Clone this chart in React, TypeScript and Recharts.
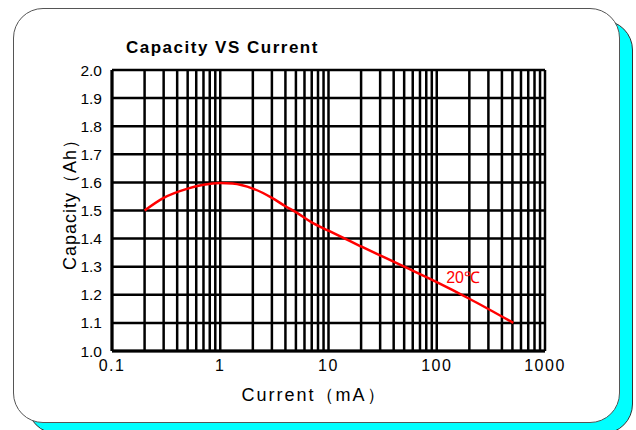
import { LineChart, Line, XAxis, YAxis, CartesianGrid, ReferenceDot } from 'recharts';

// current (mA) vs capacity (Ah)
const current = [0.2, 0.3, 0.5, 0.7, 1, 1.3, 2, 3, 4, 5, 7, 10, 20, 50, 100, 200, 510];
const capacity = [1.5, 1.545, 1.578, 1.592, 1.598, 1.596, 1.578, 1.545, 1.515, 1.494, 1.458, 1.428, 1.372, 1.3, 1.245, 1.186, 1.1];

const xTicks = [
  0.1, 0.2, 0.3, 0.4, 0.5, 0.6, 0.7, 0.8, 0.9,
  1, 2, 3, 4, 5, 6, 7, 8, 9,
  10, 20, 30, 40, 50, 60, 70, 80, 90,
  100, 200, 300, 400, 500, 600, 700, 800, 900,
  1000,
];
const xLabels = [0.1, 1, 10, 100, 1000];
const yTicks = [1.0, 1.1, 1.2, 1.3, 1.4, 1.5, 1.6, 1.7, 1.8, 1.9, 2.0];

const tempLabel = '20℃';
const tempAt = { x: 175, y: 1.263 };

const data = current.map((c, i) => ({ current: c, capacity: capacity[i] }));

export default function App() {
  return (
    <div
      style={{
        position: 'absolute',
        left: 0,
        top: 0,
        width: 636,
        height: 430,
        overflow: 'hidden',
        background: '#fff',
        fontFamily: '"Liberation Sans", Arial, sans-serif',
      }}
    >
      {/* cyan shadow card */}
      <div
        style={{
          position: 'absolute',
          left: 27,
          top: 20,
          width: 604,
          height: 412,
          borderRadius: 30,
          border: '1px solid #333',
          background: '#00ffff',
        }}
      />
      {/* white card */}
      <div
        style={{
          position: 'absolute',
          left: 13,
          top: 8,
          width: 605,
          height: 413,
          borderRadius: 30,
          border: '1px solid #555',
          background: '#fff',
        }}
      />
      <div
        style={{
          position: 'absolute',
          left: 126,
          top: 38,
          fontSize: 17,
          fontWeight: 'bold',
          letterSpacing: 1.5,
          color: '#000',
          whiteSpace: 'nowrap',
        }}
      >
        Capacity VS Current
      </div>
      <div
        style={{
          position: 'absolute',
          left: 314,
          top: 395,
          transform: 'translate(-50%, -50%)',
          fontSize: 18,
          letterSpacing: 2,
          whiteSpace: 'nowrap',
          color: '#000',
        }}
      >
        Current（mA）
      </div>
      <div
        style={{
          position: 'absolute',
          left: 70,
          top: 200,
          transform: 'translate(-50%, -50%) rotate(-90deg)',
          fontSize: 18,
          letterSpacing: 1,
          whiteSpace: 'nowrap',
          color: '#000',
        }}
      >
        Capacity（Ah）
      </div>
      <div style={{ position: 'absolute', left: 0, top: 0 }}>
        <LineChart
          width={636}
          height={430}
          data={data}
          margin={{ top: 70, right: 91, bottom: 49, left: 72 }}
        >
          <CartesianGrid stroke="#000" strokeWidth={2.5} strokeOpacity={1} />
          <XAxis
            dataKey="current"
            type="number"
            scale="log"
            domain={[0.1, 1000]}
            ticks={xTicks}
            interval={0}
            allowDataOverflow
            height={30}
            tickLine={false}
            tickSize={6}
            tickMargin={3}
            axisLine={{ stroke: '#000', strokeWidth: 3 }}
            tickFormatter={(v: number) => (xLabels.includes(v) ? String(v) : '')}
            tick={{ fontSize: 16, fill: '#000', letterSpacing: 1.5 }}
          />
          <YAxis
            type="number"
            domain={[1, 2]}
            ticks={yTicks}
            interval={0}
            width={40}
            tickLine={false}
            tickSize={6}
            tickMargin={4}
            axisLine={{ stroke: '#000', strokeWidth: 3 }}
            tickFormatter={(v: number) => v.toFixed(1)}
            tick={{ fontSize: 15.5, fill: '#000' }}
          />
          <Line
            type="monotone"
            dataKey="capacity"
            stroke="#ff0000"
            strokeWidth={2.5}
            dot={false}
            isAnimationActive={false}
          />
          <ReferenceDot
            x={tempAt.x}
            y={tempAt.y}
            r={1}
            fill="none"
            stroke="none"
            label={{ value: tempLabel, position: 'center', fill: '#ff0000', fontSize: 16 }}
          />
        </LineChart>
      </div>
    </div>
  );
}
